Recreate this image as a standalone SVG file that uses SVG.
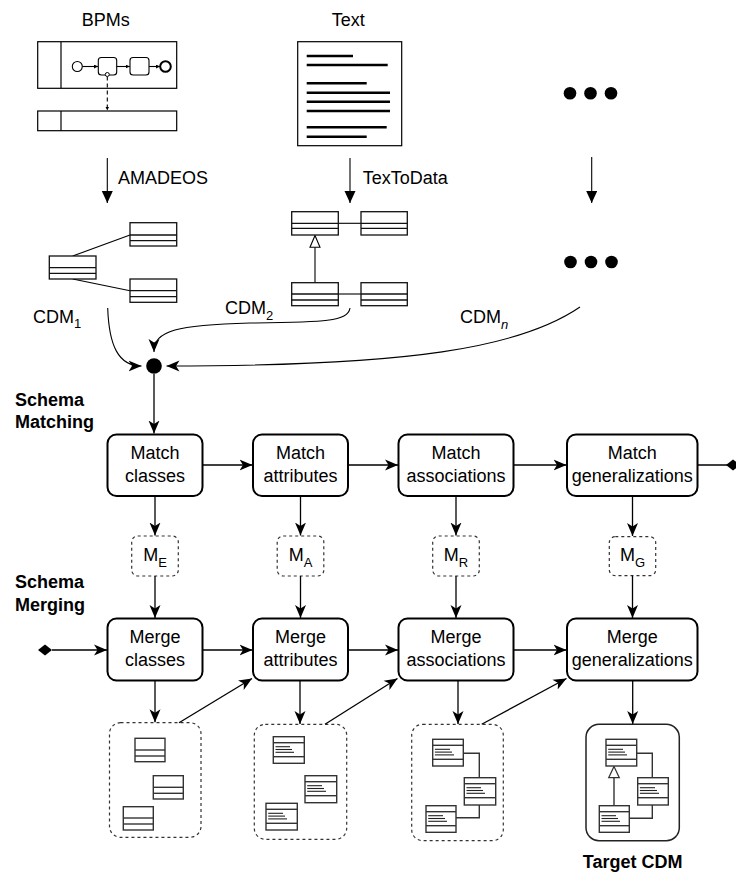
<svg xmlns="http://www.w3.org/2000/svg" width="736" height="875" viewBox="0 0 736 875">
  <defs>
    <style>
      text { font-family: "Liberation Sans", Arial, sans-serif; font-size: 18px; fill: #000; }
      .bold { font-weight: bold; }
      .proc { fill: #fff; stroke: #000; stroke-width: 2; }
      .map { fill: #fff; stroke: #333; stroke-width: 1.2; stroke-dasharray: 3 3; }
      .grp { fill: #fff; stroke: #333; stroke-width: 1.2; stroke-dasharray: 3 3; }
      .tgt { fill: #fff; stroke: #222; stroke-width: 1.5; }
      .cls { fill: #fff; stroke: #111; stroke-width: 1.3; }
      .ico { fill: #fff; stroke: #333; stroke-width: 1.4; }
      .txl { stroke: #222; stroke-width: 1.1; }
      .edge { fill: none; stroke: #000; stroke-width: 1.3; }
      .thin { fill: none; stroke: #000; stroke-width: 1.1; }
      .doc { stroke: #000; stroke-width: 2.6; }
    </style>
    <marker id="classic" markerWidth="14" markerHeight="12" refX="13" refY="6" orient="auto" markerUnits="userSpaceOnUse">
      <path d="M0,0.5 L13,6 L0,11.5 L3.5,6 Z" fill="#000"/>
    </marker>
    <marker id="block" markerWidth="12" markerHeight="12" refX="12" refY="5.5" orient="auto" markerUnits="userSpaceOnUse">
      <path d="M0,0 L12,5.5 L0,11 Z" fill="#000"/>
    </marker>
    <marker id="tiny" markerWidth="5" markerHeight="5" refX="4" refY="2" orient="auto" markerUnits="userSpaceOnUse">
      <path d="M0,0 L4,2 L0,4 Z" fill="#000"/>
    </marker>
    <marker id="diamond" markerWidth="16" markerHeight="12" refX="14" refY="6" orient="auto" markerUnits="userSpaceOnUse">
      <path d="M0,6 L7,0.5 L14,6 L7,11.5 Z" fill="#000"/>
    </marker>
  </defs>

  <!-- Source: process models -->
  <g id="bpms">
    <text x="105.7" y="26" text-anchor="middle">BPMs</text>
    <rect x="37.7" y="41.7" width="139" height="46.6" fill="#fff" stroke="#000" stroke-width="1.2"/>
    <line x1="61" y1="41.7" x2="61" y2="88.3" stroke="#000" stroke-width="1.2"/>
    <circle cx="77.3" cy="66.5" r="5" fill="#fff" stroke="#000" stroke-width="1.1"/>
    <rect x="98.3" y="57.5" width="18.4" height="17.5" rx="3" fill="#fff" stroke="#000" stroke-width="1.1"/>
    <rect x="130" y="57.5" width="19" height="17.5" rx="3" fill="#fff" stroke="#000" stroke-width="1.1"/>
    <circle cx="165.5" cy="66.5" r="5.3" fill="#fff" stroke="#000" stroke-width="2"/>
    <line x1="82.3" y1="66.5" x2="98" y2="66.5" class="thin" marker-end="url(#tiny)"/>
    <line x1="116.7" y1="66.5" x2="129.7" y2="66.5" class="thin" marker-end="url(#tiny)"/>
    <line x1="149" y1="66.5" x2="160" y2="66.5" class="thin" marker-end="url(#tiny)"/>
    <line x1="107.3" y1="76.5" x2="107.3" y2="110.5" class="thin" stroke-dasharray="4 3" marker-end="url(#tiny)"/>
    <circle cx="107.3" cy="74.5" r="2" fill="#fff" stroke="#000" stroke-width="1"/>
    <rect x="37.7" y="111" width="139" height="19.7" fill="#fff" stroke="#000" stroke-width="1.2"/>
    <line x1="61" y1="111" x2="61" y2="130.7" stroke="#000" stroke-width="1.2"/>
  </g>

  <!-- Source: text document -->
  <g id="text-doc">
    <text x="348.3" y="26" text-anchor="middle">Text</text>
    <rect x="297.7" y="41.7" width="104" height="104" fill="#fff" stroke="#000" stroke-width="1.2"/>
    <line x1="306.7" y1="56" x2="353" y2="56" class="doc"/>
    <line x1="306.7" y1="65" x2="387.7" y2="65" class="doc"/>
    <line x1="306.7" y1="83.3" x2="366.7" y2="83.3" class="doc"/>
    <line x1="306.7" y1="92.7" x2="390" y2="92.7" class="doc"/>
    <line x1="306.7" y1="101.7" x2="390" y2="101.7" class="doc"/>
    <line x1="306.7" y1="111" x2="390" y2="111" class="doc"/>
    <line x1="306.7" y1="127.3" x2="386.7" y2="127.3" class="doc"/>
    <line x1="306.7" y1="136.7" x2="366.7" y2="136.7" class="doc"/>
  </g>

  <!-- Further sources -->
  <g id="more-sources">
    <circle cx="570" cy="93.3" r="6.3" fill="#000"/>
    <circle cx="590.5" cy="93.3" r="6.3" fill="#000"/>
    <circle cx="611" cy="93.3" r="6.3" fill="#000"/>
  </g>

  <!-- CDM 1 -->
  <g id="cdm1">
    <line x1="72.7" y1="256" x2="130" y2="235" class="thin"/>
    <line x1="72.7" y1="279" x2="130" y2="290.7" class="thin"/>
    <rect x="49.3" y="256" width="46.7" height="23" class="cls"/>
    <line x1="49.3" y1="267.7" x2="96" y2="267.7" class="cls"/>
    <line x1="49.3" y1="273.3" x2="96" y2="273.3" class="cls"/>
    <rect x="130" y="222.7" width="46.7" height="23.3" class="cls"/>
    <line x1="130" y1="235" x2="176.7" y2="235" class="cls"/>
    <line x1="130" y1="240.7" x2="176.7" y2="240.7" class="cls"/>
    <rect x="130" y="279" width="46.7" height="23.3" class="cls"/>
    <line x1="130" y1="290.7" x2="176.7" y2="290.7" class="cls"/>
    <line x1="130" y1="296.7" x2="176.7" y2="296.7" class="cls"/>
    <text x="33" y="322.5">CDM<tspan font-size="13" dy="5.5">1</tspan></text>
  </g>

  <!-- CDM 2 -->
  <g id="cdm2">
    <line x1="338.3" y1="223.3" x2="361" y2="223.3" class="thin"/>
    <line x1="338.3" y1="294" x2="361" y2="294" class="thin"/>
    <line x1="315" y1="282.7" x2="315" y2="247.3" class="thin"/>
    <path d="M315,235.5 L320,247.3 L310,247.3 Z" fill="#fff" stroke="#000" stroke-width="1.1"/>
    <rect x="291.7" y="211.7" width="46.6" height="23.3" class="cls"/>
    <line x1="291.7" y1="223.3" x2="338.3" y2="223.3" class="cls"/>
    <line x1="291.7" y1="228.3" x2="338.3" y2="228.3" class="cls"/>
    <rect x="361" y="211.7" width="46.3" height="23.3" class="cls"/>
    <line x1="361" y1="223.3" x2="407.3" y2="223.3" class="cls"/>
    <line x1="361" y1="228.3" x2="407.3" y2="228.3" class="cls"/>
    <rect x="291.7" y="282.7" width="46.6" height="23" class="cls"/>
    <line x1="291.7" y1="294" x2="338.3" y2="294" class="cls"/>
    <line x1="291.7" y1="300" x2="338.3" y2="300" class="cls"/>
    <rect x="361" y="282.7" width="46.3" height="23" class="cls"/>
    <line x1="361" y1="294" x2="407.3" y2="294" class="cls"/>
    <line x1="361" y1="300" x2="407.3" y2="300" class="cls"/>
    <text x="225" y="314.3">CDM<tspan font-size="13" dy="5.5">2</tspan></text>
  </g>

  <!-- CDM n -->
  <g id="cdmn">
    <circle cx="570.5" cy="262" r="6.3" fill="#000"/>
    <circle cx="591" cy="262" r="6.3" fill="#000"/>
    <circle cx="611.5" cy="262" r="6.3" fill="#000"/>
    <text x="460" y="323.3">CDM<tspan font-size="13" dy="5.5" font-style="italic">n</tspan></text>
  </g>

  <!-- Join point -->
  <g id="join">
    <circle cx="154" cy="366" r="7.8" fill="#000"/>
  </g>

  <!-- Phase labels -->
  <g id="phase-labels">
    <text x="15" y="405.7" class="bold">Schema</text>
    <text x="15" y="428.3" class="bold">Matching</text>
    <text x="15" y="588.3" class="bold">Schema</text>
    <text x="15" y="610.7" class="bold">Merging</text>
  </g>

  <!-- Matching steps -->
  <g id="match-classes">
    <rect x="107.5" y="434.5" width="95" height="61.5" rx="9" class="proc"/>
    <text x="155" y="459.3" text-anchor="middle">Match</text>
    <text x="155" y="481.7" text-anchor="middle">classes</text>
  </g>
  <g id="match-attributes">
    <rect x="253" y="434.5" width="95" height="61.5" rx="9" class="proc"/>
    <text x="300.5" y="459.3" text-anchor="middle">Match</text>
    <text x="300.5" y="481.7" text-anchor="middle">attributes</text>
  </g>
  <g id="match-associations">
    <rect x="398.5" y="434.5" width="115" height="61.5" rx="9" class="proc"/>
    <text x="456" y="459.3" text-anchor="middle">Match</text>
    <text x="456" y="481.7" text-anchor="middle">associations</text>
  </g>
  <g id="match-generalizations">
    <rect x="567" y="434.5" width="130.5" height="61.5" rx="9" class="proc"/>
    <text x="632.3" y="459.3" text-anchor="middle">Match</text>
    <text x="632.3" y="481.7" text-anchor="middle">generalizations</text>
  </g>

  <!-- Mappings -->
  <g id="map-e">
    <rect x="131.7" y="536" width="46.6" height="40" rx="6" class="map"/>
    <text x="155" y="561" text-anchor="middle">M<tspan font-size="13" dy="6">E</tspan></text>
  </g>
  <g id="map-a">
    <rect x="277.2" y="536" width="46.6" height="40" rx="6" class="map"/>
    <text x="300.5" y="561" text-anchor="middle">M<tspan font-size="13" dy="6">A</tspan></text>
  </g>
  <g id="map-r">
    <rect x="432.7" y="536" width="46.6" height="40" rx="6" class="map"/>
    <text x="456" y="561" text-anchor="middle">M<tspan font-size="13" dy="6">R</tspan></text>
  </g>
  <g id="map-g">
    <rect x="609.3" y="536.7" width="46.4" height="39" rx="6" class="map"/>
    <text x="632.5" y="561" text-anchor="middle">M<tspan font-size="13" dy="6">G</tspan></text>
  </g>

  <!-- Merging steps -->
  <g id="merge-classes">
    <rect x="107.5" y="618.5" width="95" height="62" rx="9" class="proc"/>
    <text x="155" y="643.3" text-anchor="middle">Merge</text>
    <text x="155" y="665.7" text-anchor="middle">classes</text>
  </g>
  <g id="merge-attributes">
    <rect x="253" y="618.5" width="95" height="62" rx="9" class="proc"/>
    <text x="300.5" y="643.3" text-anchor="middle">Merge</text>
    <text x="300.5" y="665.7" text-anchor="middle">attributes</text>
  </g>
  <g id="merge-associations">
    <rect x="398.5" y="618.5" width="115" height="62" rx="9" class="proc"/>
    <text x="456" y="643.3" text-anchor="middle">Merge</text>
    <text x="456" y="665.7" text-anchor="middle">associations</text>
  </g>
  <g id="merge-generalizations">
    <rect x="567" y="618.5" width="130.5" height="62" rx="9" class="proc"/>
    <text x="632.3" y="643.3" text-anchor="middle">Merge</text>
    <text x="632.3" y="665.7" text-anchor="middle">generalizations</text>
  </g>

  <!-- Intermediate model after class merge -->
  <g id="model-classes">
    <rect x="109.5" y="722.7" width="91.5" height="114.6" rx="11" class="grp"/>
    <rect x="135" y="738.3" width="30" height="23.4" class="ico"/>
    <line x1="135" y1="750" x2="165" y2="750" class="ico"/>
    <line x1="135" y1="756" x2="165" y2="756" class="ico"/>
    <rect x="153.3" y="775.7" width="30" height="23.3" class="ico"/>
    <line x1="153.3" y1="787.3" x2="183.3" y2="787.3" class="ico"/>
    <line x1="153.3" y1="793.3" x2="183.3" y2="793.3" class="ico"/>
    <rect x="123.3" y="806.7" width="30" height="23.3" class="ico"/>
    <line x1="123.3" y1="818" x2="153.3" y2="818" class="ico"/>
    <line x1="123.3" y1="824" x2="153.3" y2="824" class="ico"/>
  </g>

  <!-- Intermediate model after attribute merge -->
  <g id="model-attributes">
    <rect x="254.3" y="724.3" width="92.4" height="115" rx="11" class="grp"/>
    <rect x="273.3" y="736.7" width="31" height="26.6" class="ico"/>
    <line x1="273.3" y1="742.7" x2="304.3" y2="742.7" class="ico"/>
    <line x1="273.3" y1="756.7" x2="304.3" y2="756.7" class="ico"/>
    <line x1="275.5" y1="746.7" x2="290" y2="746.7" class="txl"/>
    <line x1="275.5" y1="749.5" x2="292" y2="749.5" class="txl"/>
    <line x1="275.5" y1="752.3" x2="294" y2="752.3" class="txl"/>
    <rect x="305" y="775.7" width="31.7" height="27" class="ico"/>
    <line x1="305" y1="781.7" x2="336.7" y2="781.7" class="ico"/>
    <line x1="305" y1="795.7" x2="336.7" y2="795.7" class="ico"/>
    <line x1="307.2" y1="785.7" x2="322" y2="785.7" class="txl"/>
    <line x1="307.2" y1="788.5" x2="324" y2="788.5" class="txl"/>
    <line x1="307.2" y1="791.3" x2="326" y2="791.3" class="txl"/>
    <rect x="266" y="803.3" width="31.3" height="26.7" class="ico"/>
    <line x1="266" y1="809.3" x2="297.3" y2="809.3" class="ico"/>
    <line x1="266" y1="823.3" x2="297.3" y2="823.3" class="ico"/>
    <line x1="268.2" y1="813.3" x2="283" y2="813.3" class="txl"/>
    <line x1="268.2" y1="816.1" x2="285" y2="816.1" class="txl"/>
    <line x1="268.2" y1="818.9" x2="287" y2="818.9" class="txl"/>
  </g>

  <!-- Intermediate model after association merge -->
  <g id="model-associations">
    <rect x="411.7" y="724.3" width="91.6" height="116.4" rx="11" class="grp"/>
    <polyline points="463.3,753.3 479.3,753.3 479.3,777.7" class="ico" fill="none"/>
    <polyline points="479.3,805 479.3,817.7 456,817.7" class="ico" fill="none"/>
    <rect x="432.7" y="739.3" width="30.6" height="26.7" class="ico"/>
    <line x1="432.7" y1="745.3" x2="463.3" y2="745.3" class="ico"/>
    <line x1="432.7" y1="759.3" x2="463.3" y2="759.3" class="ico"/>
    <line x1="434.9" y1="749.3" x2="450" y2="749.3" class="txl"/>
    <line x1="434.9" y1="752.1" x2="452" y2="752.1" class="txl"/>
    <line x1="434.9" y1="754.9" x2="454" y2="754.9" class="txl"/>
    <rect x="464.3" y="777.7" width="31.4" height="27.3" class="ico"/>
    <line x1="464.3" y1="783.7" x2="495.7" y2="783.7" class="ico"/>
    <line x1="464.3" y1="797.7" x2="495.7" y2="797.7" class="ico"/>
    <line x1="466.5" y1="787.7" x2="481" y2="787.7" class="txl"/>
    <line x1="466.5" y1="790.5" x2="483" y2="790.5" class="txl"/>
    <line x1="466.5" y1="793.3" x2="485" y2="793.3" class="txl"/>
    <rect x="426" y="805.7" width="30" height="26.6" class="ico"/>
    <line x1="426" y1="811.7" x2="456" y2="811.7" class="ico"/>
    <line x1="426" y1="825.7" x2="456" y2="825.7" class="ico"/>
    <line x1="428.2" y1="815.7" x2="443" y2="815.7" class="txl"/>
    <line x1="428.2" y1="818.5" x2="445" y2="818.5" class="txl"/>
    <line x1="428.2" y1="821.3" x2="447" y2="821.3" class="txl"/>
  </g>

  <!-- Resulting target model -->
  <g id="target-cdm">
    <rect x="586" y="724.3" width="93.3" height="116.4" rx="13" class="tgt"/>
    <polyline points="636.7,753.3 652.3,753.3 652.3,777.7" class="ico" fill="none"/>
    <polyline points="652.3,805 652.3,818.3 629.3,818.3" class="ico" fill="none"/>
    <line x1="614" y1="805.7" x2="614" y2="777.7" class="ico"/>
    <path d="M614,766.5 L619.3,777.7 L608.7,777.7 Z" fill="#fff" stroke="#333" stroke-width="1.2"/>
    <rect x="606" y="739.3" width="30.7" height="26.7" class="ico"/>
    <line x1="606" y1="745.3" x2="636.7" y2="745.3" class="ico"/>
    <line x1="606" y1="759.3" x2="636.7" y2="759.3" class="ico"/>
    <line x1="608.2" y1="749.3" x2="623" y2="749.3" class="txl"/>
    <line x1="608.2" y1="752.1" x2="625" y2="752.1" class="txl"/>
    <line x1="608.2" y1="754.9" x2="627" y2="754.9" class="txl"/>
    <rect x="637.7" y="777.7" width="30.6" height="27.3" class="ico"/>
    <line x1="637.7" y1="783.7" x2="668.3" y2="783.7" class="ico"/>
    <line x1="637.7" y1="797.7" x2="668.3" y2="797.7" class="ico"/>
    <line x1="639.9" y1="787.7" x2="655" y2="787.7" class="txl"/>
    <line x1="639.9" y1="790.5" x2="657" y2="790.5" class="txl"/>
    <line x1="639.9" y1="793.3" x2="659" y2="793.3" class="txl"/>
    <rect x="599.3" y="805.7" width="30" height="26.6" class="ico"/>
    <line x1="599.3" y1="811.7" x2="629.3" y2="811.7" class="ico"/>
    <line x1="599.3" y1="825.7" x2="629.3" y2="825.7" class="ico"/>
    <line x1="601.5" y1="815.7" x2="616" y2="815.7" class="txl"/>
    <line x1="601.5" y1="818.5" x2="618" y2="818.5" class="txl"/>
    <line x1="601.5" y1="821.3" x2="620" y2="821.3" class="txl"/>
    <text x="632.7" y="868" text-anchor="middle" class="bold">Target CDM</text>
  </g>

  <!-- Connectors -->
  <g id="connectors">
    <!-- transformations -->
    <line x1="107.3" y1="158" x2="107.3" y2="203" class="thin" marker-end="url(#block)"/>
    <text x="118" y="184">AMADEOS</text>
    <line x1="350" y1="158" x2="350" y2="203" class="thin" marker-end="url(#block)"/>
    <text x="362.7" y="183.5">TexToData</text>
    <line x1="591.7" y1="157" x2="591.7" y2="203" class="thin" marker-end="url(#block)"/>

    <!-- models into the join point -->
    <path d="M107.7,308 C109,345 118,366 141.5,366" class="thin" marker-end="url(#classic)"/>
    <path d="M350,308 C348,322 322,322 250,323 C178,325 154,330 154,352" class="thin" marker-end="url(#classic)"/>
    <path d="M580,307 C520,348 410,366 166.5,366" class="thin" marker-end="url(#classic)"/>
    <line x1="154" y1="374" x2="154" y2="433.5" class="edge" marker-end="url(#classic)"/>

    <!-- matching chain -->
    <line x1="202.5" y1="465" x2="252.5" y2="465" class="edge" marker-end="url(#classic)"/>
    <line x1="348" y1="465" x2="398" y2="465" class="edge" marker-end="url(#classic)"/>
    <line x1="513.5" y1="465" x2="566.5" y2="465" class="edge" marker-end="url(#classic)"/>
    <line x1="697.5" y1="465" x2="740" y2="465" class="edge" marker-end="url(#diamond)"/>

    <!-- mappings -->
    <line x1="155" y1="496" x2="155" y2="535.5" class="edge" marker-end="url(#classic)"/>
    <line x1="300.5" y1="496" x2="300.5" y2="535.5" class="edge" marker-end="url(#classic)"/>
    <line x1="456" y1="496" x2="456" y2="535.5" class="edge" marker-end="url(#classic)"/>
    <line x1="632.5" y1="496" x2="632.5" y2="536" class="edge" marker-end="url(#classic)"/>
    <line x1="155" y1="576" x2="155" y2="618" class="edge" marker-end="url(#classic)"/>
    <line x1="300.5" y1="576" x2="300.5" y2="618" class="edge" marker-end="url(#classic)"/>
    <line x1="456" y1="576" x2="456" y2="618" class="edge" marker-end="url(#classic)"/>
    <line x1="632.5" y1="575.7" x2="632.5" y2="618" class="edge" marker-end="url(#classic)"/>

    <!-- merging chain -->
    <path d="M38,650 L45,644.5 L52,650 L45,655.5 Z" fill="#000"/>
    <line x1="52" y1="650" x2="107" y2="650" class="edge" marker-end="url(#classic)"/>
    <line x1="202.5" y1="650" x2="252.5" y2="650" class="edge" marker-end="url(#classic)"/>
    <line x1="348" y1="650" x2="398" y2="650" class="edge" marker-end="url(#classic)"/>
    <line x1="513.5" y1="650" x2="566.5" y2="650" class="edge" marker-end="url(#classic)"/>

    <!-- merge outputs -->
    <line x1="155" y1="680.5" x2="155" y2="722.2" class="edge" marker-end="url(#classic)"/>
    <line x1="300" y1="680.5" x2="300" y2="724" class="edge" marker-end="url(#classic)"/>
    <line x1="458" y1="680.5" x2="458" y2="724" class="edge" marker-end="url(#classic)"/>
    <line x1="632.7" y1="680.5" x2="632.7" y2="724" class="edge" marker-end="url(#classic)"/>

    <!-- intermediate models feeding the next merge step -->
    <line x1="179" y1="722.7" x2="252" y2="678.5" class="edge" marker-end="url(#classic)"/>
    <line x1="325" y1="724.3" x2="397.5" y2="678.5" class="edge" marker-end="url(#classic)"/>
    <line x1="481.7" y1="724.3" x2="566.5" y2="678.5" class="edge" marker-end="url(#classic)"/>
  </g>
</svg>
